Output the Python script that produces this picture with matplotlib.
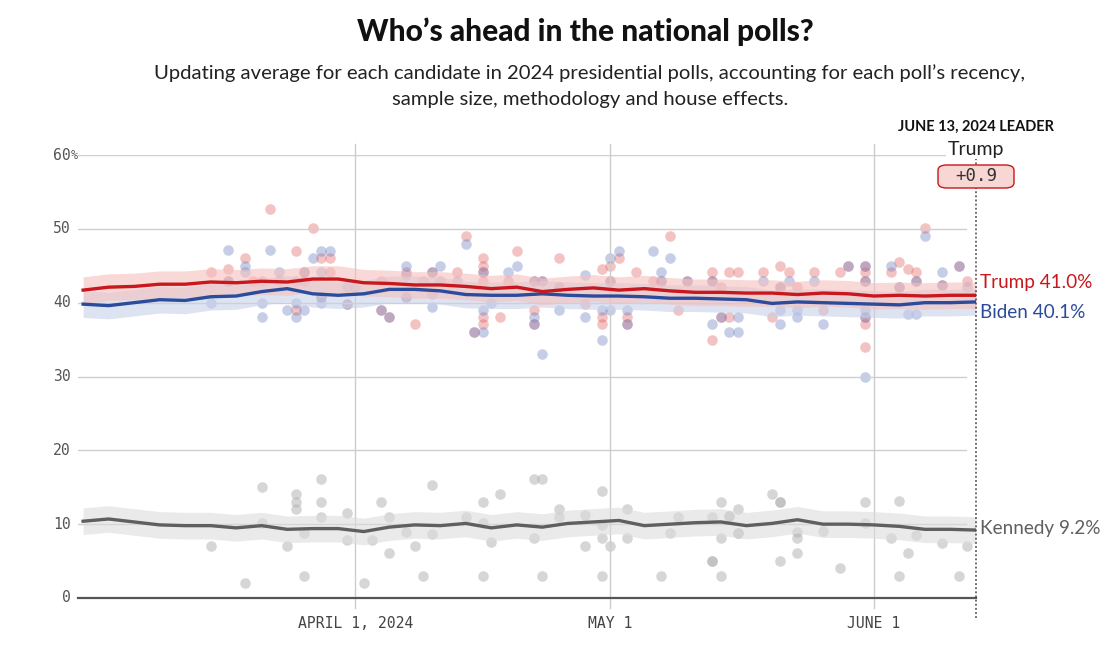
import matplotlib
matplotlib.use("Agg")
import matplotlib.pyplot as plt
from matplotlib.patches import FancyBboxPatch
import pandas as pd

# polling averages, read every three days off the chart
avg_dates = ["02-29", "03-03", "03-06", "03-09", "03-12", "03-15", "03-18", "03-21", "03-24",
             "03-27", "03-30", "04-02", "04-05", "04-08", "04-11", "04-14", "04-17", "04-20",
             "04-23", "04-26", "04-29", "05-02", "05-05", "05-08", "05-11", "05-14", "05-17",
             "05-20", "05-23", "05-26", "05-29", "06-01", "06-04", "06-07", "06-10", "06-13"]
trump_avg = [41.7, 42.1, 42.2, 42.5, 42.5, 42.8, 42.7, 42.9, 42.8, 43.2, 43.2, 42.7,
             42.6, 42.4, 42.4, 42.2, 41.9, 42.1, 41.5, 41.8, 42.0, 41.7, 41.9, 41.6,
             41.4, 41.4, 41.3, 41.3, 41.1, 41.3, 41.2, 40.9, 41.0, 40.9, 41.0, 41.0]
biden_avg = [39.8, 39.6, 40.0, 40.4, 40.3, 40.8, 40.9, 41.5, 41.9, 41.2, 41.0, 41.2,
             41.8, 41.8, 41.6, 41.1, 41.0, 41.0, 41.2, 41.0, 40.9, 40.9, 40.8, 40.6,
             40.6, 40.5, 40.4, 39.9, 40.1, 40.0, 39.9, 39.8, 39.7, 40.0, 40.0, 40.1]
kennedy_avg = [10.4, 10.7, 10.3, 9.9, 9.8, 9.8, 9.5, 9.8, 9.3, 9.4, 9.4, 9.0,
               9.6, 9.9, 9.8, 10.1, 9.5, 9.9, 9.6, 10.1, 10.3, 10.5, 9.8, 10.0,
               10.2, 10.3, 9.8, 10.1, 10.6, 10.0, 10.0, 9.9, 9.7, 9.3, 9.3, 9.2]
band = 1.8

# individual polls
trump_poll_dates = ["03-15", "03-17", "03-17", "03-19", "03-20", "03-21", "03-22", "03-23", "03-25",
                    "03-25", "03-25", "03-26", "03-26", "03-27", "03-28", "03-28", "03-29", "03-29",
                    "03-31", "04-04", "04-04", "04-05", "04-07", "04-07", "04-08", "04-09", "04-10",
                    "04-11", "04-13", "04-14", "04-15", "04-16", "04-16", "04-16", "04-16", "04-16",
                    "04-16", "04-18", "04-19", "04-20", "04-22", "04-22", "04-22", "04-23", "04-25",
                    "04-25", "04-28", "04-30", "04-30", "04-30", "05-01", "05-01", "05-02", "05-03",
                    "05-03", "05-04", "05-06", "05-07", "05-08", "05-09", "05-10", "05-13", "05-13",
                    "05-13", "05-14", "05-14", "05-15", "05-15", "05-16", "05-19", "05-20", "05-21",
                    "05-21", "05-22", "05-23", "05-25", "05-26", "05-28", "05-29", "05-31", "05-31",
                    "05-31", "05-31", "05-31", "05-31", "06-03", "06-04", "06-04", "06-05", "06-06",
                    "06-06", "06-07", "06-09", "06-11", "06-12"]
trump_poll_values = [44.1, 44.5, 43.0, 46.1, 43.0, 43.0, 52.7, 43.0, 47.0,
                     43.0, 39.0, 44.1, 43.0, 50.1, 46.1, 40.8, 46.1, 44.1,
                     39.8, 39.0, 43.0, 38.0, 44.1, 40.8, 37.1, 43.0, 44.1,
                     43.0, 44.1, 49.0, 36.0, 46.1, 45.0, 44.1, 43.0, 38.0,
                     37.1, 38.0, 43.0, 47.0, 43.0, 39.0, 37.1, 43.0, 46.1,
                     42.1, 39.8, 44.5, 38.0, 37.1, 45.0, 43.0, 46.1, 38.0,
                     37.1, 44.1, 43.0, 43.0, 49.0, 39.0, 43.0, 44.1, 43.0,
                     35.0, 42.1, 38.0, 44.1, 38.0, 44.1, 44.1, 38.0, 45.0,
                     42.1, 44.1, 42.1, 44.1, 39.0, 44.1, 45.0, 45.0, 44.1,
                     43.0, 38.0, 37.1, 34.0, 44.1, 45.5, 42.1, 44.5, 44.1,
                     43.0, 50.1, 42.4, 45.0, 43.0]

biden_poll_dates = ["03-15", "03-17", "03-17", "03-19", "03-19", "03-21", "03-21", "03-22", "03-23",
                    "03-24", "03-25", "03-25", "03-26", "03-26", "03-27", "03-28", "03-28", "03-28",
                    "03-28", "03-29", "03-31", "03-31", "04-01", "04-04", "04-05", "04-07", "04-07",
                    "04-07", "04-10", "04-10", "04-10", "04-11", "04-13", "04-14", "04-15", "04-16",
                    "04-16", "04-16", "04-17", "04-19", "04-20", "04-22", "04-22", "04-22", "04-23",
                    "04-23", "04-25", "04-25", "04-28", "04-28", "04-30", "04-30", "05-01", "05-01",
                    "05-01", "05-02", "05-03", "05-03", "05-06", "05-07", "05-07", "05-08", "05-10",
                    "05-13", "05-13", "05-14", "05-15", "05-16", "05-16", "05-19", "05-21", "05-21",
                    "05-21", "05-22", "05-23", "05-23", "05-25", "05-26", "05-29", "05-31", "05-31",
                    "05-31", "05-31", "05-31", "06-03", "06-04", "06-05", "06-06", "06-06", "06-07",
                    "06-09", "06-09", "06-11", "06-12"]
biden_poll_values = [40.0, 47.2, 43.0, 45.0, 44.1, 40.0, 38.0, 47.2, 44.1,
                     39.0, 40.0, 38.0, 44.1, 39.0, 46.1, 47.0, 44.1, 40.8,
                     40.0, 47.0, 39.8, 42.1, 42.1, 39.0, 38.0, 45.0, 43.8,
                     40.8, 44.1, 39.4, 41.2, 45.0, 43.0, 48.0, 36.0, 44.1,
                     39.0, 36.0, 40.0, 44.1, 45.0, 43.0, 38.0, 37.1, 43.0,
                     33.0, 39.0, 42.1, 43.8, 38.0, 39.0, 35.0, 46.1, 43.0,
                     39.0, 47.0, 39.0, 37.1, 47.0, 44.1, 43.0, 46.1, 43.0,
                     43.0, 37.1, 38.0, 36.0, 36.0, 38.0, 43.0, 42.1, 39.0,
                     37.1, 43.0, 39.0, 38.0, 43.0, 37.1, 45.0, 45.0, 43.0,
                     39.0, 38.0, 30.0, 45.0, 42.1, 38.5, 43.0, 38.5, 49.0,
                     44.1, 42.4, 45.0, 42.1]

kennedy_poll_dates = ["03-15", "03-19", "03-21", "03-21", "03-24", "03-25", "03-25", "03-25", "03-26",
                      "03-26", "03-28", "03-28", "03-28", "03-31", "03-31", "04-02", "04-03", "04-04",
                      "04-05", "04-05", "04-07", "04-08", "04-09", "04-10", "04-10", "04-14", "04-16",
                      "04-16", "04-16", "04-17", "04-18", "04-22", "04-23", "04-22", "04-23", "04-25",
                      "04-25", "04-28", "04-28", "04-30", "04-30", "04-30", "04-30", "05-01", "05-03",
                      "05-03", "05-07", "05-08", "05-09", "05-13", "05-13", "05-13", "05-14", "05-14",
                      "05-14", "05-15", "05-15", "05-16", "05-16", "05-16", "05-20", "05-21", "05-21",
                      "05-21", "05-23", "05-23", "05-23", "05-26", "05-28", "05-31", "05-31", "06-03",
                      "06-04", "06-04", "06-05", "06-06", "06-09", "06-11", "06-12"]
kennedy_poll_values = [7.0, 2.0, 15.0, 10.2, 7.0, 14.1, 13.0, 12.1, 3.0,
                       8.8, 16.1, 13.0, 11.0, 11.5, 7.9, 2.0, 7.9, 13.0,
                       11.0, 6.1, 9.0, 7.0, 3.0, 15.3, 8.7, 11.0, 13.0,
                       10.2, 3.0, 7.6, 14.1, 16.1, 16.1, 8.1, 3.0, 12.1,
                       11.0, 11.2, 7.0, 14.5, 9.9, 8.1, 3.0, 7.0, 12.1,
                       8.1, 3.0, 8.8, 11.0, 11.0, 5.0, 5.0, 13.0, 8.1,
                       3.0, 11.1, 11.1, 12.1, 8.8, 8.8, 14.1, 13.0, 13.0,
                       5.0, 9.0, 8.1, 6.1, 9.1, 4.1, 13.0, 10.2, 8.1,
                       13.1, 3.0, 6.1, 8.5, 7.4, 3.0, 7.0]

y_ticks = [0, 10, 20, 30, 40, 50, 60]
x_ticks = ["2024-04-01", "2024-05-01", "2024-06-01"]
x_tick_labels = ["APRIL 1, 2024", "MAY 1", "JUNE 1"]
leader_date = "2024-06-13"
leader_name = "Trump"
leader_margin = "+0.9"


def to_dates(md):
    return pd.to_datetime(["2024-" + d for d in md])


RED = "#c8171d"
BLUE = "#2b4c9b"
GRAY = "#5f5f5f"
W, H = 1120, 652

fig = plt.figure(figsize=(11.2, 6.52), dpi=100)
ax = fig.add_axes([78 / W, 54 / H, 898 / W, 443 / H])

apr1 = pd.Timestamp("2024-04-01")
x0 = apr1 - pd.Timedelta(days=32.6)
x1 = pd.Timestamp(leader_date)
grid_end = apr1 + pd.Timedelta(days=71.8)
ax.set_xlim(x0, x1)
ax.set_ylim(0, 60)
ax.axis("off")

# grid
for v in y_ticks[1:]:
    ax.plot([x0, grid_end], [v, v], color="#cfcfcf", lw=1, zorder=2)
for d in x_ticks:
    ax.plot([pd.Timestamp(d)] * 2, [-1.4, 61.5], color="#cccccc", lw=1, zorder=2, clip_on=False)
ax.plot([x0, x1], [0, 0], color="#555555", lw=1.6, zorder=4, clip_on=False)

# poll dots
ax.scatter(to_dates(kennedy_poll_dates), kennedy_poll_values, s=58, color="#b5b5b5",
           alpha=0.55, lw=0, zorder=1)
ax.scatter(to_dates(trump_poll_dates), trump_poll_values, s=58, color="#e0605f",
           alpha=0.38, lw=0, zorder=1)
ax.scatter(to_dates(biden_poll_dates), biden_poll_values, s=58, color="#6a80c0",
           alpha=0.38, lw=0, zorder=1)

# averages with bands
ad = to_dates(avg_dates)
for vals, bcol in [(kennedy_avg, "#dcdcdc"), (biden_avg, "#c9d1ea"), (trump_avg, "#f5c0bd")]:
    lo = [v - band for v in vals]
    hi = [v + band for v in vals]
    ax.fill_between(ad, lo, hi, color=bcol, alpha=0.6, lw=0, zorder=2)
for vals, col in [(kennedy_avg, GRAY), (biden_avg, BLUE), (trump_avg, RED)]:
    ax.plot(ad, vals, color=col, lw=2.4, zorder=3, solid_joinstyle="round")

# leader marker line
ax.plot([x1, x1], [-2.7, 61.0], color="#444444", lw=1.1, ls=(0, (1.2, 1.5)),
        zorder=5, clip_on=False)

# y tick labels
for v in y_ticks:
    ax.annotate(str(v), xy=(0, v), xycoords=("axes fraction", "data"),
                xytext=(-7, 0), textcoords="offset pixels", ha="right", va="center",
                fontsize=10.6, family="DejaVu Sans Mono", color="#555555")
ax.annotate("%", xy=(0, 60), xycoords=("axes fraction", "data"), xytext=(-7, 0),
            textcoords="offset pixels", ha="left", va="center", fontsize=8.5,
            family="DejaVu Sans Mono", color="#555555")

# x tick labels
for d, lab in zip(x_ticks, x_tick_labels):
    ax.annotate(lab, xy=(pd.Timestamp(d), 0), xycoords="data", xytext=(0, -25),
                textcoords="offset pixels", ha="center", va="center", fontsize=10.6,
                family="DejaVu Sans Mono", color="#444444")

# end labels
for name, vals, col, yoff in [("Trump", trump_avg, RED, 13), ("Biden", biden_avg, BLUE, -11),
                              ("Kennedy", kennedy_avg, GRAY, 2)]:
    ax.annotate(f"{name} {vals[-1]:.1f}%", xy=(x1, vals[-1]), xytext=(4, yoff),
                textcoords="offset pixels", ha="left", va="center", fontsize=13.6,
                family="Lato", color=col, annotation_clip=False)

# leader box
fig.text(976 / W, 1 - 127 / H, "JUNE 13, 2024 LEADER", ha="center", va="center",
         fontsize=10.5, family="Lato", weight="bold", color="#111111")
fig.text(976 / W, 1 - 149 / H, leader_name, ha="center", va="center", fontsize=14,
         family="Lato", color="#222222",
         bbox=dict(facecolor="white", edgecolor="none", pad=1))
box = FancyBboxPatch((938 / W, 1 - 188 / H), 76 / W, 23 / H, transform=fig.transFigure,
                     boxstyle="round,pad=0,rounding_size=0.008", facecolor="#f8d6d4",
                     edgecolor=RED, lw=1, zorder=6)
fig.patches.append(box)
fig.text(976 / W, 1 - 176.5 / H, leader_margin, ha="center", va="center", fontsize=12.5,
         family="DejaVu Sans Mono", color="#333333", zorder=7)

# titles
fig.text(585 / W, 1 - 32 / H, "Who’s ahead in the national polls?", ha="center",
         va="center", fontsize=21.5, family="Lato", weight=900, color="#111111")
fig.text(590 / W, 1 - 73 / H,
         "Updating average for each candidate in 2024 presidential polls, accounting for each poll’s recency,",
         ha="center", va="center", fontsize=14.6, family="Lato", color="#222222")
fig.text(590 / W, 1 - 100 / H, "sample size, methodology and house effects.",
         ha="center", va="center", fontsize=14.6, family="Lato", color="#222222")

fig.savefig("out.png", dpi=100, facecolor="white")
